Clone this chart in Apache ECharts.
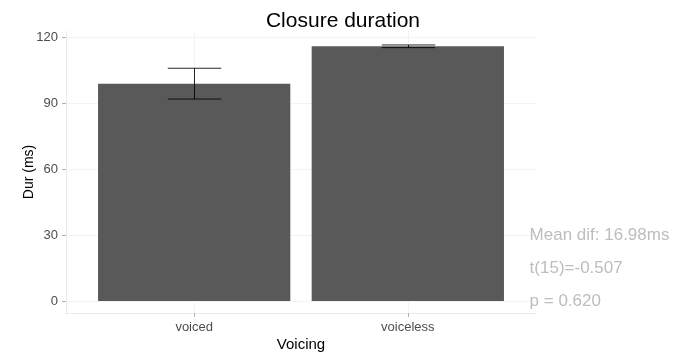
<!DOCTYPE html>
<html>
<head>
<meta charset="utf-8">
<script src="https://cdn.jsdelivr.net/npm/echarts@6/dist/echarts.min.js"></script>
<style>
  html, body { margin: 0; padding: 0; background: #fff; }
  #chart { width: 686px; height: 354px; }
</style>
</head>
<body>
<div id="chart"></div>
<script>
// Mean closure duration per voicing category, with standard error
const categories = ['voiced', 'voiceless'];
const meanDur = [98.8, 115.78];
const seDur = [7.0, 0.6];
const yTicks = [0, 30, 60, 90, 120];

// Summary statistics printed beside the panel: [x position, y position, text]
const statNotes = [
  [1.57, 30, 'Mean dif: 16.98ms'],
  [1.57, 15, 't(15)=-0.507'],
  [1.57, 0, 'p = 0.620']
];

const BAR_FRACTION = 0.9;
const WHISKER_FRACTION = 0.25;
const axisFont = 'Liberation Sans, Arial, sans-serif';

const chart = echarts.init(document.getElementById('chart'), null, { renderer: 'canvas' });

const barData = categories.map((c, i) => [i, meanDur[i]]);
const errData = categories.map((c, i) => [i, meanDur[i] - seDur[i], meanDur[i] + seDur[i]]);

chart.setOption({
  animation: false,
  backgroundColor: '#ffffff',
  title: {
    text: 'Closure duration',
    left: 'center',
    top: 6,
    textStyle: { fontFamily: axisFont, fontSize: 21, fontWeight: 'normal', color: '#000' }
  },
  grid: { left: 66, right: 150, top: 31, bottom: 41, outerBoundsMode: 'none', containLabel: false },
  xAxis: {
    type: 'value',
    min: -0.6,
    max: 1.6,
    name: 'Voicing',
    nameLocation: 'middle',
    nameGap: 24,
    nameMoveOverlap: false,
    nameTextStyle: { fontFamily: axisFont, fontSize: 15, color: '#000', verticalAlign: 'top' },
    axisLine: { show: true, onZero: false, lineStyle: { color: '#ebebeb', width: 1 } },
    axisTick: { show: true, length: 4, customValues: [0, 1], lineStyle: { color: '#b0b0b0' } },
    axisLabel: {
      customValues: [0, 1],
      margin: 8,
      fontFamily: axisFont,
      fontSize: 13,
      color: '#4d4d4d',
      formatter: v => categories[Math.round(v)] || ''
    },
    splitLine: { show: true, lineStyle: { color: '#f3f3f3', width: 1 } }
  },
  yAxis: {
    type: 'value',
    min: -5.45,
    max: 122.73,
    name: 'Dur (ms)',
    nameLocation: 'middle',
    nameGap: 30,
    nameMoveOverlap: false,
    nameRotate: 90,
    nameTextStyle: { fontFamily: axisFont, fontSize: 14, color: '#000' },
    axisLine: { show: true, onZero: false, lineStyle: { color: '#ebebeb', width: 1 } },
    axisTick: { show: true, length: 4, customValues: yTicks, lineStyle: { color: '#b0b0b0' } },
    axisLabel: {
      customValues: yTicks,
      margin: 8,
      fontFamily: axisFont,
      fontSize: 13,
      color: '#4d4d4d',
      padding: [3, 0, 0, 0]
    },
    splitLine: { show: true, lineStyle: { color: '#f3f3f3', width: 1 } }
  },
  series: [
    {
      // bars
      type: 'custom',
      data: barData,
      renderItem: function (params, api) {
        const x = api.value(0);
        const top = api.coord([x, api.value(1)]);
        const base = api.coord([x, 0]);
        const w = api.size([BAR_FRACTION, 0])[0];
        return {
          type: 'rect',
          shape: { x: top[0] - w / 2, y: top[1], width: w, height: base[1] - top[1] },
          style: { fill: '#595959' }
        };
      }
    },
    {
      // error bars
      type: 'custom',
      data: errData,
      z: 3,
      renderItem: function (params, api) {
        const x = api.value(0);
        const lo = api.coord([x, api.value(1)]);
        const hi = api.coord([x, api.value(2)]);
        const hw = api.size([WHISKER_FRACTION, 0])[0] / 2;
        const st = { stroke: 'rgba(0,0,0,0.85)', lineWidth: 1 };
        const cx = Math.round(lo[0]) + 0.5;
        return {
          type: 'group',
          children: [
            { type: 'line', shape: { x1: cx, y1: hi[1], x2: cx, y2: lo[1] }, style: st },
            { type: 'line', shape: { x1: cx - hw, y1: hi[1], x2: cx + hw, y2: hi[1] }, style: st },
            { type: 'line', shape: { x1: cx - hw, y1: lo[1], x2: cx + hw, y2: lo[1] }, style: st }
          ]
        };
      }
    },
    {
      // statistics text beside the panel
      type: 'custom',
      data: statNotes,
      clip: false,
      z: 4,
      renderItem: function (params, api) {
        const p = api.coord([api.value(0), api.value(1)]);
        return {
          type: 'text',
          x: p[0],
          y: p[1],
          style: {
            text: statNotes[params.dataIndex][2],
            fill: '#bdbdbd',
            font: '17px "Liberation Sans", Arial, sans-serif',
            textAlign: 'left',
            textVerticalAlign: 'middle'
          }
        };
      }
    }
  ]
});
</script>
</body>
</html>
